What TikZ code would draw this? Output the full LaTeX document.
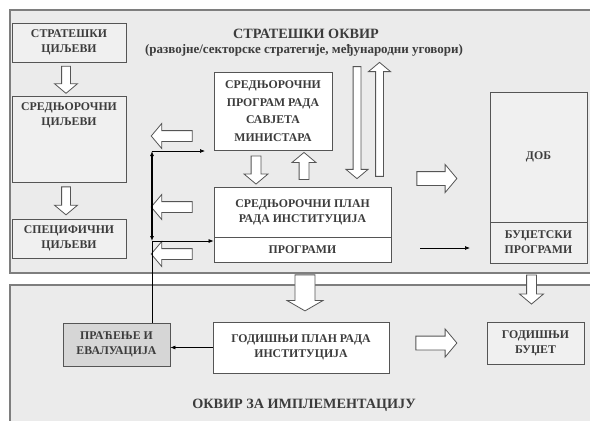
\documentclass[tikz,border=0pt]{standalone}
\usepackage{fontspec}
\setmainfont{Liberation Serif}
\usetikzlibrary{shapes.arrows,arrows.meta,shadows}

\definecolor{framefill}{HTML}{EBEBEB}
\definecolor{frameline}{HTML}{7E7E7E}
\definecolor{boxfill}{HTML}{F0F0F0}
\definecolor{boxline}{HTML}{555555}
\definecolor{darkfill}{HTML}{D6D6D6}
\definecolor{txtgray}{HTML}{3C3C3C}

\tikzset{
  frame/.style={draw=frameline, fill=framefill, line width=1.2pt},
  box/.style={draw=boxline, fill=boxfill, line width=0.8pt, align=center,
              text=txtgray, font=\bfseries\fontsize{11.8}{15}\selectfont,
              inner sep=0pt},
  wbox/.style={box, fill=white},
  hollow/.style={single arrow, draw=boxline, fill=white, line width=0.8pt,
                 inner xsep=0pt, single arrow tip angle=100},
  link/.style={draw=black, line width=0.7pt, -{Latex[length=5pt,width=4pt]}},
  title/.style={text=txtgray, font=\bfseries\fontsize{14.2}{16}\selectfont}
}

\begin{document}
\begin{tikzpicture}[x=1pt,y=-1pt]
      \clip (0,0) rectangle (590,421);

      % upper and lower frame
      \draw[frame] (10,10) rectangle (600,273);
      \draw[frame] (10,285) rectangle (600,440);

      \node (T1) [title] at (306,34) {СТРАТЕШКИ ОКВИР};
      \node (T2) [title, font=\bfseries\fontsize{13}{15}\selectfont] at (304,50)
            {(развојне/секторске стратегије, међународни уговори)};
      \node (T3) [title] at (304,405) {ОКВИР ЗА ИМПЛЕМЕНТАЦИЈУ};

      % left column
      \node (SC)   [box, minimum width=114, minimum height=39] at (69,42.5)  {СТРАТЕШКИ\\ЦИЉЕВИ};
      \node (SRC)  [box, minimum width=114, minimum height=86] at (69,139)   {};
      \node (SRCt) [box, draw=none, fill=none, anchor=north] at (69,102)     {СРЕДЊОРОЧНИ\\ЦИЉЕВИ};
      \node (SPC)  [box, minimum width=114, minimum height=39] at (69,238.5) {СПЕЦИФИЧНИ\\ЦИЉЕВИ};

      % middle column
      \node (SMIN) [wbox, minimum width=118, minimum height=78] at (273,111)
            {СРЕДЊОРОЧНИ\\[2.5pt]ПРОГРАМ РАДА\\[2.5pt]САВЈЕТА\\[2.5pt]МИНИСТАРА};
      \node (PLAN) [wbox, minimum width=177, minimum height=50] at (302.5,212)
            {СРЕДЊОРОЧНИ ПЛАН\\РАДА ИНСТИТУЦИЈА};
      \node (PROG) [wbox, minimum width=177, minimum height=25] at (302.5,249.5) {ПРОГРАМИ};

      % right column
      \node (DOB)  [box, minimum width=97, minimum height=130] at (538.5,157) {ДОБ};
      \node (BPROG)[box, minimum width=97, minimum height=41] at (538.5,242.5) {БУЏЕТСКИ\\ПРОГРАМИ};
      \draw[boxline, line width=1.6pt] (DOB.north east) -- (BPROG.south east) -- (BPROG.south west);

      % lower frame
      \node (PRAC) [box, fill=darkfill, minimum width=107, minimum height=43] at (116.5,344.5)
            {ПРАЋЕЊЕ И\\ЕВАЛУАЦИЈА};
      \node (GPLAN)[wbox, minimum width=176, minimum height=51] at (301,347.5)
            {ГОДИШЊИ ПЛАН РАДА\\ИНСТИТУЦИЈА};
      \node (GBUD) [box, minimum width=97, minimum height=42] at (535.5,343)
            {ГОДИШЊИ\\БУЏЕТ};

      % hollow arrows
      \node (A1)  [hollow, rotate=-90, minimum height=27, minimum width=20, inner ysep=4] at (66,78) {};
      \node (A2)  [hollow, rotate=-90, minimum height=28, minimum width=20, inner ysep=4] at (66,199) {};
      \node (A3)  [hollow, rotate=180, minimum height=41, minimum width=22, inner ysep=5] at (174,136) {};
      \node (A4)  [hollow, rotate=180, minimum height=41, minimum width=22, inner ysep=5] at (174,207) {};
      \node (A5)  [hollow, rotate=180, minimum height=41, minimum width=22, inner ysep=5] at (174,254) {};
      \node (A6)  [hollow, rotate=-90, minimum height=28, minimum width=16, inner ysep=4.5] at (256,168) {};
      \node (A7)  [hollow, rotate=90,  minimum height=27, minimum width=16, inner ysep=4.5] at (304,168) {};
      \node (A8)  [hollow, rotate=-90, minimum height=112, minimum width=12, inner ysep=3.5] at (357,121) {};
      \node (A9)  [hollow, rotate=90,  minimum height=114, minimum width=13, inner ysep=3.5] at (379.5,121) {};
      \node (A10) [hollow, minimum height=40, minimum width=27, inner ysep=6.5] at (434,178.5) {};
      \node (A11) [hollow, rotate=-90, minimum height=36, minimum width=36, inner ysep=8.5,
                   single arrow tip angle=120] at (305,290) {};
      \node (A12) [hollow, rotate=-90, minimum height=29, minimum width=18, inner ysep=4.5] at (531.5,287.5) {};
      \node (A13) [hollow, minimum height=41, minimum width=26, inner ysep=6.5] at (433.5,343) {};

      % feedback lines
      \coordinate (V1) at (152,151);
      \coordinate (V2) at (152,241);
      \coordinate (E1) at (205,151);
      \coordinate (P1) at (420,248);
      \coordinate (P2) at (470,248);

      \draw[line width=1.2pt, {Latex[length=5pt,width=4pt]}-{Latex[length=5pt,width=4pt]}]
            (V1) -- (V2);
      \draw[link] (V1) -- (E1);
      \draw[link] (V2) -- (V2 -| PROG.west);
      \draw[line width=0.9pt] (V2) -- (V2 |- PRAC.north);
      \draw[link] (P1) -- (P2);
      \draw[link] (GPLAN.west) -- (GPLAN.west -| PRAC.east);
\end{tikzpicture}
\end{document}
